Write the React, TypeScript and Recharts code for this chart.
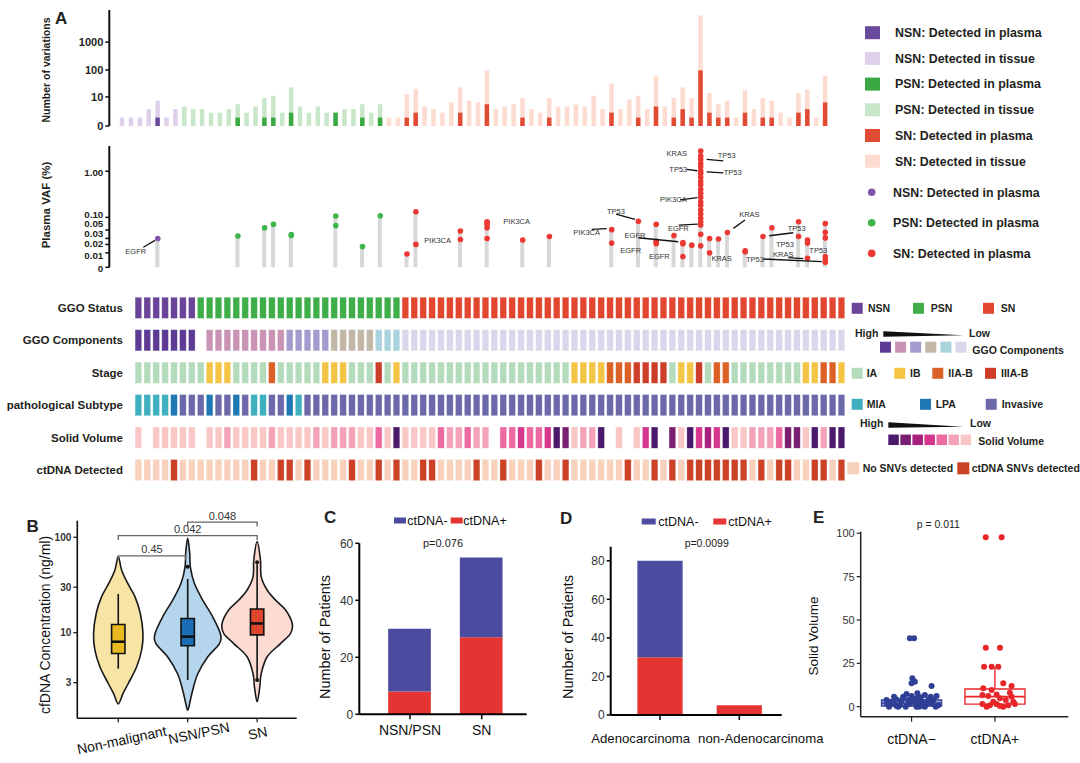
import React from 'react';
import { BarChart, Bar, XAxis, YAxis, Cell, ComposedChart, Scatter } from 'recharts';

const FONT = '"Liberation Sans", Arial, Helvetica, sans-serif';

/* ================= Panel A data (80 patients, ordered) ================= */
const GROUP_NAMES = ['NSN', 'PSN', 'SN'];
const GROUP_SIZES = [7, 23, 50];

const TISSUE_VARIATIONS = [
  1, 1, 1, 3, 7, 1, 3,
  4, 3, 3, 2, 2, 3, 5, 2, 4, 9, 11, 2, 23, 4, 2, 4, 2, 2, 3, 3, 5, 2, 5,
  1, 1, 13, 20, 4, 3, 2, 6, 23, 7,
  6, 97, 3, 4, 5, 9, 3, 2, 9, 4,
  4, 5, 4, 11, 3, 32, 3, 8, 11, 3,
  63, 4, 9, 23, 9, 9000, 14, 5, 7, 1,
  18, 3, 9, 7, 2, 1, 14, 19, 1, 63,
];
const PLASMA_VARIATIONS = [
  0, 0, 0, 0, 1, 0, 0, 0, 0, 0,
  0, 0, 0, 1, 0, 0, 1, 1, 0, 2,
  0, 0, 0, 0, 2, 0, 0, 1, 0, 1,
  0, 0, 1, 2, 0, 0, 0, 0, 2, 0,
  0, 5, 0, 0, 0, 1, 0, 0, 1, 0,
  0, 0, 0, 0, 0, 2, 0, 0, 1, 0,
  4, 0, 1, 3, 1, 97, 2, 1, 1, 0,
  2, 0, 1, 1, 0, 0, 2, 3, 0, 6,
];
const COUNT_TICKS = [0, 10, 100, 1000];

const VAF_TICKS = [0, 0.01, 0.02, 0.03, 0.05, 0.1, 1];
const VAF_TICK_LABELS = ['0', '0.01', '0.02', '0.03', '0.05', '0.10', '1.00'];

// [patient index, plasma VAF values (%)]
const PLASMA_VAF: [number, number[]][] = [
  [4, [0.03]],
  [13, [0.035]],
  [16, [0.057]],
  [17, [0.069]],
  [19, [0.038, 0.036]],
  [24, [0.107, 0.064]],
  [27, [0.017]],
  [29, [0.109]],
  [32, [0.009]],
  [33, [0.134, 0.02]],
  [38, [0.047, 0.028]],
  [41, [0.079, 0.074, 0.069, 0.057, 0.03]],
  [45, [0.027]],
  [48, [0.034]],
  [55, [0.051, 0.022]],
  [58, [0.081]],
  [60, [0.069, 0.025, 0.024, 0.021]],
  [62, [0.036]],
  [63, [0.023, 0.0067, 0.021]],
  [64, [0.019]],
  [65, [2.645, 2.075, 1.77, 1.458, 1.24, 1.022, 0.898, 0.74, 0.6, 0.51, 0.41, 0.34, 0.28, 0.22, 0.186, 0.146, 0.119, 0.095, 0.079, 0.066, 0.039, 0.018]],
  [66, [0.03, 0.01]],
  [67, [0.029]],
  [68, [0.043]],
  [70, [0.012, 0.011]],
  [72, [0.034]],
  [73, [0.057]],
  [76, [0.079, 0.034]],
  [77, [0.027, 0.022, 0.0054]],
  [79, [0.072, 0.044, 0.031, 0.0067, 0.0045, 0.0027]],
];

// gene annotations: [gene, patient index, VAF of annotated point]
const GENE_LABELS: [string, number, number][] = [
  ['EGFR', 4, 0.03],
  ['PIK3CA', 38, 0.028],
  ['PIK3CA', 41, 0.079],
  ['TP53', 58, 0.081],
  ['PIK3CA', 55, 0.051],
  ['EGFR', 63, 0.023],
  ['EGFR', 60, 0.025],
  ['EGFR', 62, 0.036],
  ['EGFR', 65, 0.066],
  ['KRAS', 65, 2.645],
  ['TP53', 65, 2.075],
  ['TP53', 65, 1.022],
  ['TP53', 65, 0.898],
  ['PIK3CA', 65, 0.28],
  ['KRAS', 68, 0.043],
  ['KRAS', 66, 0.01],
  ['TP53', 72, 0.034],
  ['TP53', 73, 0.057],
  ['TP53', 79, 0.031],
  ['KRAS', 77, 0.0054],
  ['TP53', 79, 0.0027],
];
// label placement (pixels relative to the annotated point): [dx, dy, leader line or null]
const GENE_LABEL_LAYOUT: [number, number, number[] | null][] = [
  [-22, 13, [-14.5, 8.8, -2.8, 2]],
  [-22.7, 0.5, null],
  [29.6, -0.7, null],
  [-22.4, -10, [-22.4, -7.3, -3.4, -2]],
  [-25, 2.7, [-20, -0.3, -5, -1]],
  [-47.9, -7.4, [-44.6, -4.7, -4.6, -0.7]],
  [-25.5, 9.5, null],
  [-14.7, 20.5, null],
  [-22.4, 3.3, [-22, 0, -3, -1]],
  [-24, 2.3, null],
  [26, -0.3, [6, 3.3, 22.6, 4.7]],
  [-22.4, -1.3, [-14, -1.3, -3.4, 0]],
  [32, -1, [6, -1.6, 22.6, -0.6]],
  [-27.4, 2, [-20.7, 2.7, -3.4, 0.4]],
  [22, -17.8, [6, -4.2, 17.6, -12.5]],
  [12, 6, null],
  [33.7, -8.1, [6.3, -0.7, 30.3, -3.7]],
  [13.1, 17.3, null],
  [-7, 12.1, null],
  [-24.2, -4, [-19.2, -0.6, -4.2, 0.4]],
  [-70.3, -3.3, [-62, -3.3, -3.6, -0.6]],
];
// vertical nudge of VAF tick labels (px), as spread out in the figure
const VAF_LABEL_NUDGE = [0.7, 3, -1.4, -5.4, -6, -3.3, 1];

const HEATMAP_ROW_NAMES = ['GGO Status', 'GGO Components', 'Stage', 'pathological Subtype', 'Solid Volume', 'ctDNA Detected'];
// GGO components: A (high) .. F (low), '.' = missing
const GGO_COMPONENT_ROW = 'AAAAAAA.BBBBBBBBBCCCCCDDDDDEEE' + 'FFFFFFFFFF' + 'FFFFFFFFFF' + 'FFFFFFFFFF' + 'FFFFFFFFFF' + 'FFFFFFFFFF';
// Stage: 1 IA, 2 IB, 3 IIA-B, 4 IIIA-B
const STAGE_ROW = '11111111' + '222' + '1111' + '3' + '11111' + '222' + '111' + '4' + '1' + '2' +
  '1111111111' + '111111111' + '2222' + '333' + '4444' + '1' + '22' + '4' + '1' + '33' + '11111111' + '22' + '33' + '2';
// Subtype: M MIA, L LPA, I invasive
const SUBTYPE_ROW = 'MMMML' + 'IIIL' + 'IIL' + 'IMM' + 'IIL' + 'M' +
  'IIIIIIIIII' + 'IIIIIIIIII' + 'IIIIIIIIII' + 'IIIIIIIIII' + 'IIIIIIIIII' + 'IIIIIIIIII' + 'I';
// Solid volume: 0 missing, 1 (low) .. 7 (high)
const SOLID_ROW = '101111101121111211112122211317' + '111132232' + '2033433476' + '1227010147' + '0617454711' + '2223661727' + '7';

/* ================= Panel B data ================= */
const B_GROUPS = ['Non-malignant', 'NSN/PSN', 'SN'];
// violin outline: [cfDNA ng/ml, half width (category units)]
const B_VIOLIN_NONMALIGNANT: [number, number][] = [[1.8, 0], [2.3, 0.067], [2.94, 0.144], [4.4, 0.265], [6.6, 0.337], [9.8, 0.356], [16, 0.317], [23.9, 0.24], [33, 0.135], [45.5, 0.048], [62.7, 0]];
const B_VIOLIN_NSNPSN: [number, number][] = [[1.54, 0], [1.96, 0.038], [2.5, 0.072], [3.7, 0.144], [5.6, 0.29], [7.7, 0.457], [9.8, 0.47], [14.7, 0.36], [22, 0.216], [33, 0.096], [49, 0.038], [68, 0.029], [98, 0]];
const B_VIOLIN_SN: [number, number][] = [[1.89, 0], [2.7, 0.038], [3.7, 0.058], [5.6, 0.144], [7.7, 0.337], [9.8, 0.48], [12.5, 0.505], [17.3, 0.41], [22, 0.264], [28, 0.144], [38.7, 0.058], [57.8, 0.048], [90, 0]];
// box: [whisker low, q1, median, q3, whisker high]
const B_BOX_NONMALIGNANT = [4.2, 6.07, 8.05, 12.2, 25.5];
const B_BOX_NSNPSN = [3.2, 7.3, 9.1, 14.1, 36.6];
const B_BOX_SN = [3.3, 9.5, 12.5, 17.7, 52];
const B_OUTLIERS: [number, number][] = [[2, 49], [3, 54.7], [3, 3.2]];
// comparisons: [group a, group b, bracket height, p]
const B_COMPARISONS: [number, number, number, string][] = [[1, 1.97, 63.7, '0.45'], [1, 3, 104, '0.042'], [2, 3, 144, '0.048']];
const B_Y_TICKS = [3, 10, 30, 100];

/* ================= Panel C / D data ================= */
const C_CATEGORIES = ['NSN/PSN', 'SN'];
const C_CTDNA_POS = [8, 27];
const C_CTDNA_NEG = [22, 28];
const C_Y_TICKS = [0, 20, 40, 60];
const D_CATEGORIES = ['Adenocarcinoma', 'non-Adenocarcinoma'];
const D_CTDNA_POS = [30, 5];
const D_CTDNA_NEG = [50, 0];
const D_Y_TICKS = [0, 20, 40, 60, 80];

/* ================= Panel E data ================= */
const E_CATEGORIES = ['ctDNA\u2212', 'ctDNA+'];
const E_Y_TICKS = [0, 25, 50, 75, 100];
// [jitter offset, solid volume]
const E_NEG_POINTS: [number, number][] = [
  [-0.02, 39.5], [0.03, 39.5], [0.01, 16.4], [0.04, 14.4], [0, 13.5], [0.24, 12.0],
  [-0.29, 1.5], [-0.24, 2.9], [-0.18, 4.2], [-0.14, 0.9], [-0.1, 5.8], [-0.07, 0], [-0.04, 3.9],
  [0, 6.2], [0.04, 2.3], [0.06, 4.8], [0.09, 0], [0.13, 2.9], [0.16, 6.7], [0.18, 1.5], [0.21, 4.2],
  [0.26, 3.9], [0.3, 6.2], [0.32, 0.9], [-0.27, 0], [-0.21, 5.8], [-0.16, 0], [-0.12, 3.5], [-0.03, 1.5],
  [0.02, 4.2], [0.06, 0], [0.11, 5.4], [0.14, 0.4], [0.2, 3.9], [0.24, 1.9], [0.29, 0], [0.07, 7.7],
  [-0.06, 7.3], [-0.22, 1.9], [-0.18, 0.4], [0.07, 1.9], [-0.02, 2.9], [0.16, 0], [0.23, 5.8], [-0.3, 3.9],
];
const E_POS_POINTS: [number, number][] = [
  [-0.11, 97.7], [0.08, 97.7], [-0.11, 34], [0.06, 34], [-0.13, 23], [-0.04, 23], [0.04, 23],
  [0.1, 13.5], [0.2, 12], [-0.14, 10.6], [-0.04, 9.6], [-0.15, 6.7], [-0.08, 6.2], [0.02, 7], [0.18, 8],
  [0.06, 4.8], [0.13, 3.9], [0.22, 2.9], [-0.15, 1.5], [-0.06, 0.9], [0.02, 1.5], [0.1, 0], [0.16, 0.9],
  [0.24, 1.5], [-0.1, 0], [-0.02, 2.9], [0.06, 0.4], [0.2, 5.8],
];
const E_BOX_NEG = [0, 0.4, 2, 3.9, 3.9];
const E_BOX_POS = [0, 1.5, 5.8, 10.2, 23];

/* ================= colours ================= */
const GROUP_DARK = ['#6a4a9c', '#3aa843', '#e14b33'];
const GROUP_LIGHT = ['#ddd0e8', '#c8e6c9', '#fddbd0'];
const DOT_COLORS = ['#8455ad', '#3db54a', '#ec3832'];
const STATUS_COLORS = ['#6a4499', '#3fae49', '#e1472f'];
const GGO_COMP_COLORS: Record<string, string> = { A: '#5d3b94', B: '#c993b3', C: '#a39cce', D: '#c2b7a7', E: '#a9d3dd', F: '#dbd6eb' };
const STAGE_COLORS: Record<string, string> = { '1': '#b4dcbc', '2': '#f4c444', '3': '#dc6127', '4': '#cc3e27' };
const SUBTYPE_COLORS: Record<string, string> = { M: '#3fb0bf', L: '#1f78b4', I: '#6b69a9' };
const SOLID_COLORS = ['', '#f9c7c6', '#f4a2b8', '#ec6aa0', '#d5378f', '#a8207d', '#7a1e72', '#4b196b'];
const CTDNA_COLORS = ['#f7d1bb', '#cb4227'];
const C_NEG_COLOR = '#4b4ba0';
const C_POS_COLOR = '#e43533';

/* ================= helpers ================= */
const tCount = (v: number) => Math.log10(v + 1);
const tVaf = (v: number) => Math.log10(100 * v + 1);
const groupOf = (i: number) => (i < GROUP_SIZES[0] ? 0 : i < GROUP_SIZES[0] + GROUP_SIZES[1] ? 1 : 2);
const near = (a: number, b: number) => Math.abs(a - b) < 1e-6;

const EmptyShape = () => <g />;

function smoothClosed(pts: { x: number; y: number }[]) {
  const n = pts.length;
  let d = `M${pts[0].x},${pts[0].y}`;
  for (let k = 0; k < n; k++) {
    const p0 = pts[(k - 1 + n) % n], p1 = pts[k], p2 = pts[(k + 1) % n], p3 = pts[(k + 2) % n];
    const c1x = p1.x + (p2.x - p0.x) / 6, c1y = p1.y + (p2.y - p0.y) / 6;
    const c2x = p2.x - (p3.x - p1.x) / 6, c2y = p2.y - (p3.y - p1.y) / 6;
    d += ` C${c1x},${c1y} ${c2x},${c2y} ${p2.x},${p2.y}`;
  }
  return d + 'Z';
}
function polyPath(pts: { x: number; y: number }[], closed: boolean) {
  return pts.map((p, k) => `${k ? 'L' : 'M'}${p.x},${p.y}`).join(' ') + (closed ? 'Z' : '');
}

// a polygon / polyline in data coordinates, drawn through the chart's scales
function shapeSeries(key: string, pts: number[][], render: (p: { x: number; y: number }[]) => React.ReactElement) {
  return (
    <Scatter
      key={key}
      data={pts.map(([x, y]) => ({ x, y }))}
      dataKey="y"
      shape={EmptyShape}
      line={(props: any) => render(props.points)}
      isAnimationActive={false}
    />
  );
}

/* ================= Panel A: top bars ================= */
const A_DOMAIN: [number, number] = [-1.449, 80.09];
const countData = TISSUE_VARIATIONS.map((t, i) => ({ x: i, tissue: tCount(t), plasma: tCount(PLASMA_VARIATIONS[i]), g: groupOf(i) }));
const countTicks = COUNT_TICKS.map(tCount);

const aTick = { fontSize: 11, fontWeight: 700, fill: '#231f20', fontFamily: FONT };

function TopBars() {
  return (
    <BarChart width={1080} height={140} data={countData} margin={{ top: 10, right: 245, bottom: 14, left: 49.3 }}>
      <XAxis xAxisId="t" type="number" dataKey="x" domain={A_DOMAIN} hide />
      <XAxis xAxisId="p" type="number" dataKey="x" domain={A_DOMAIN} hide />
      <YAxis
        type="number" domain={[0, 4.15]} ticks={countTicks} interval={0} width={60}
        tickFormatter={(v: number) => String(COUNT_TICKS[countTicks.findIndex((t) => near(t, v))])}
        axisLine={{ stroke: '#111', strokeWidth: 2 }} tickLine={{ stroke: '#111', strokeWidth: 1.5 }} tickSize={4}
        tick={aTick}
      />
      <Bar xAxisId="t" dataKey="tissue" barSize={4.5} isAnimationActive={false}>
        {countData.map((d) => <Cell key={d.x} fill={GROUP_LIGHT[d.g]} />)}
      </Bar>
      <Bar xAxisId="p" dataKey="plasma" barSize={4.5} isAnimationActive={false}>
        {countData.map((d) => <Cell key={d.x} fill={GROUP_DARK[d.g]} />)}
      </Bar>
    </BarChart>
  );
}

/* ================= Panel A: VAF lollipops ================= */
const vafMap: Record<number, number[]> = {};
PLASMA_VAF.forEach(([i, vs]) => { vafMap[i] = vs; });
const stemData = TISSUE_VARIATIONS.map((_, i) => ({ x: i, stem: vafMap[i] ? tVaf(Math.max(...vafMap[i])) : null }));
const dotData = PLASMA_VAF.flatMap(([i, vs]) => vs.map((v) => ({ x: i, y: tVaf(v), g: groupOf(i) })));
const geneData = GENE_LABELS.map(([gene, i, v], k) => ({ x: i, y: tVaf(v), gene, layout: GENE_LABEL_LAYOUT[k] }));
const vafTicks = VAF_TICKS.map(tVaf);

const VafDot = (p: any) => <circle cx={p.cx} cy={p.cy} r={2.8} fill={DOT_COLORS[p.payload.g]} />;
const GeneLabel = (p: any) => {
  const { cx, cy, payload } = p;
  const [dx, dy, line] = payload.layout;
  return (
    <g>
      {line && <line x1={cx + line[0]} y1={cy + line[1]} x2={cx + line[2]} y2={cy + line[3]} stroke="#111" strokeWidth={1.3} />}
      <text x={cx + dx} y={cy + dy} textAnchor="middle" dominantBaseline="central" fontSize={7.5} fill="#333" fontFamily={FONT}>{payload.gene}</text>
    </g>
  );
};
const VafTick = (p: any) => {
  const k = vafTicks.findIndex((t) => near(t, p.payload.value));
  return (
    <text x={p.x} y={p.y + VAF_LABEL_NUDGE[k]} textAnchor="end" dominantBaseline="central" fontSize={9.8} fontWeight={700} fill="#231f20" fontFamily={FONT}>
      {VAF_TICK_LABELS[k]}
    </text>
  );
};

function VafChart() {
  return (
    <ComposedChart width={1080} height={140} data={stemData} margin={{ top: 6, right: 245, bottom: 12.7, left: 49.3 }}>
      <XAxis type="number" dataKey="x" domain={A_DOMAIN} hide />
      <YAxis
        type="number" domain={[0, 2.53]} ticks={vafTicks} interval={0} width={60}
        axisLine={{ stroke: '#111', strokeWidth: 2 }} tickLine={{ stroke: '#111', strokeWidth: 1.5 }} tickSize={4}
        tick={<VafTick />}
      />
      <Bar dataKey="stem" barSize={4} fill="#d8d8d8" isAnimationActive={false} />
      <Scatter data={dotData} dataKey="y" shape={VafDot} isAnimationActive={false} />
      <Scatter data={geneData} dataKey="y" shape={GeneLabel} isAnimationActive={false} />
    </ComposedChart>
  );
}

/* ================= Panel A: heatmap ================= */
const heatCells: { x: number; y: number; c: string }[] = [];
for (let i = 0; i < TISSUE_VARIATIONS.length; i++) {
  const colors = [
    STATUS_COLORS[groupOf(i)],
    GGO_COMP_COLORS[GGO_COMPONENT_ROW[i]],
    STAGE_COLORS[STAGE_ROW[i]],
    SUBTYPE_COLORS[SUBTYPE_ROW[i]],
    SOLID_COLORS[Number(SOLID_ROW[i])],
    CTDNA_COLORS[PLASMA_VARIATIONS[i] > 0 ? 1 : 0],
  ];
  colors.forEach((c, r) => { if (c) heatCells.push({ x: i, y: r, c }); });
}
const HeatCell = (p: any) => (
  <rect x={p.cx - 3.3} y={p.cy - 10.6} width={6.6} height={21.2} fill={p.payload.c} stroke="#ffffff" strokeOpacity={0.45} strokeWidth={0.6} />
);
const RowTick = (p: any) => (
  <text x={p.x} y={p.y} textAnchor="end" dominantBaseline="central" fontSize={11.5} fontWeight={700} fill="#231f20" fontFamily={FONT}>
    {HEATMAP_ROW_NAMES[p.payload.value]}
  </text>
);

function Heatmap() {
  return (
    <ComposedChart width={1080} height={200} margin={{ top: 0, right: 230, bottom: 0, left: 5 }}>
      <XAxis type="number" dataKey="x" domain={[-0.944, 79.96]} hide />
      <YAxis
        type="number" domain={[-0.549, 5.615]} reversed ticks={[0, 1, 2, 3, 4, 5]} interval={0}
        width={125} axisLine={false} tickLine={false} tickSize={0} tickMargin={7} tick={<RowTick />}
      />
      <Scatter data={heatCells} dataKey="y" shape={HeatCell} isAnimationActive={false} />
    </ComposedChart>
  );
}

/* ================= Panel B ================= */
const B_VIOLINS = [B_VIOLIN_NONMALIGNANT, B_VIOLIN_NSNPSN, B_VIOLIN_SN];
const B_BOXES = [B_BOX_NONMALIGNANT, B_BOX_NSNPSN, B_BOX_SN];
const B_VIOLIN_FILL = ['#f8e5a6', '#b4d5ec', '#fcdcd2'];
const B_BOX_FILL = ['#e8b921', '#1b6db4', '#e0452e'];
const B_BOX_HW = 0.096;

function violinOutline(pos: number, prof: [number, number][]) {
  const right = prof.map(([v, w]) => [pos + w, v]);
  const left = prof.slice(1, -1).reverse().map(([v, w]) => [pos - w, v]);
  return [...right, ...left];
}

const BTick = (p: any) => {
  const k = p.payload.value - 1;
  const dx = [3.4, 11.3, 0.5][k] ?? 0;
  const cy = [740, 733, 733][k] - 500;
  return (
    <text x={p.x + dx} y={cy} transform={`rotate(-12, ${p.x + dx}, ${cy})`} textAnchor="middle" dominantBaseline="central" fontSize={14} fill="#111" fontFamily={FONT}>
      {B_GROUPS[k]}
    </text>
  );
};
const OutlierDot = (p: any) => <circle cx={p.cx} cy={p.cy} r={2} fill="#111" />;
const PText = (p: any) => (
  <text x={p.cx} y={p.cy - 2.5} textAnchor="middle" fontSize={11} fill="#333" fontFamily={FONT}>{p.payload.label}</text>
);

function PanelB() {
  const series: React.ReactElement[] = [];
  B_VIOLINS.forEach((prof, k) => {
    series.push(shapeSeries(`v${k}`, violinOutline(k + 1, prof), (pts) => (
      <path d={smoothClosed(pts)} fill={B_VIOLIN_FILL[k]} stroke="#1a1a1a" strokeWidth={1.6} />
    )));
  });
  B_BOXES.forEach(([lo, q1, med, q3, hi], k) => {
    const pos = k + 1;
    series.push(shapeSeries(`w${k}`, [[pos, lo], [pos, hi]], (pts) => <path d={polyPath(pts, false)} stroke="#111" strokeWidth={1.6} fill="none" />));
    series.push(shapeSeries(`b${k}`, [[pos - B_BOX_HW, q1], [pos + B_BOX_HW, q1], [pos + B_BOX_HW, q3], [pos - B_BOX_HW, q3]], (pts) => (
      <path d={polyPath(pts, true)} stroke="#111" strokeWidth={1.6} fill={B_BOX_FILL[k]} />
    )));
    series.push(shapeSeries(`m${k}`, [[pos - B_BOX_HW, med], [pos + B_BOX_HW, med]], (pts) => <path d={polyPath(pts, false)} stroke="#111" strokeWidth={2.6} fill="none" />));
  });
  B_COMPARISONS.forEach(([a, b, h], k) => {
    series.push(shapeSeries(`br${k}`, [[a, h * 0.9], [a, h], [b, h], [b, h * 0.9]], (pts) => <path d={polyPath(pts, false)} stroke="#666" strokeWidth={1.3} fill="none" />));
  });
  return (
    <ComposedChart width={310} height={263} margin={{ top: 20.7, right: 13.3, bottom: 14.7, left: 32.3 }}>
      <XAxis type="number" dataKey="x" domain={[0.41, 3.57]} ticks={[1, 2, 3]} interval={0} height={30}
        axisLine={{ stroke: '#111', strokeWidth: 1.6 }} tickLine={{ stroke: '#111', strokeWidth: 1.2 }} tickSize={4} tick={<BTick />} />
      <YAxis type="number" scale="log" domain={[1.27, 149]} ticks={B_Y_TICKS} interval={0} width={45}
        axisLine={{ stroke: '#111', strokeWidth: 1.6 }} tickLine={{ stroke: '#111', strokeWidth: 1.2 }} tickSize={4}
        tick={{ fontSize: 10, fontWeight: 700, fill: '#333', fontFamily: FONT }} />
      {series}
      <Scatter data={B_OUTLIERS.map(([x, y]) => ({ x, y }))} dataKey="y" shape={OutlierDot} isAnimationActive={false} />
      <Scatter data={B_COMPARISONS.map(([a, b, h, p]) => ({ x: (a + b) / 2, y: h, label: p }))} dataKey="y" shape={PText} isAnimationActive={false} />
    </ComposedChart>
  );
}

/* ================= Panel C / D ================= */
function StackPanel({ cats, pos, neg, yMax, yTicks, width, margin, padding, barSize, tickMargin, labelDx, labelSize }: any) {
  const data = cats.map((c: string, i: number) => ({ cat: c, pos: pos[i], neg: neg[i] }));
  const XTick = (p: any) => {
    const k = cats.indexOf(p.payload.value);
    return (
      <text x={p.x + (labelDx ? labelDx[k] : 0)} y={p.y} dy="0.71em" textAnchor="middle" fontSize={labelSize} fill="#111" fontFamily={FONT}>{p.payload.value}</text>
    );
  };
  return (
    <BarChart width={width} height={263} data={data} margin={margin}>
      <XAxis dataKey="cat" padding={padding} height={30} interval={0} axisLine={{ stroke: '#000', strokeWidth: 2 }}
        tickLine={{ stroke: '#000', strokeWidth: 1.5 }} tickSize={5} tickMargin={tickMargin} tick={<XTick />} />
      <YAxis type="number" domain={[0, yMax]} ticks={yTicks} interval={0} width={40}
        axisLine={{ stroke: '#000', strokeWidth: 2 }} tickLine={{ stroke: '#000', strokeWidth: 1.5 }} tickSize={4}
        tick={{ fontSize: 12, fill: '#333', fontFamily: FONT }} />
      <Bar dataKey="pos" stackId="s" fill={C_POS_COLOR} barSize={barSize} isAnimationActive={false} />
      <Bar dataKey="neg" stackId="s" fill={C_NEG_COLOR} barSize={barSize} isAnimationActive={false} />
    </BarChart>
  );
}

/* ================= Panel E ================= */
const E_BOX_HW = 0.36;
const EDot = (color: string) => (p: any) => <circle cx={p.cx} cy={p.cy} r={3} fill={color} />;
const ETick = (p: any) => (
  <text x={p.x} y={p.y} dy="0.71em" textAnchor="middle" fontSize={14} fill="#111" fontFamily={FONT}>{E_CATEGORIES[p.payload.value - 1]}</text>
);

function PanelE() {
  const boxes: React.ReactElement[] = [];
  const specs = [
    { box: E_BOX_NEG, stroke: '#3646a0', fill: '#7f89c6' },
    { box: E_BOX_POS, stroke: '#e8262a', fill: 'none' },
  ];
  specs.forEach(({ box, stroke, fill }, k) => {
    const [lo, q1, med, q3, hi] = box;
    const pos = k + 1;
    boxes.push(shapeSeries(`ew${k}`, [[pos, lo], [pos, q1]], (pts) => <path d={polyPath(pts, false)} stroke={stroke} strokeWidth={1.4} fill="none" />));
    boxes.push(shapeSeries(`eh${k}`, [[pos, q3], [pos, hi]], (pts) => <path d={polyPath(pts, false)} stroke={stroke} strokeWidth={1.4} fill="none" />));
    boxes.push(shapeSeries(`eb${k}`, [[pos - E_BOX_HW, q1], [pos + E_BOX_HW, q1], [pos + E_BOX_HW, q3], [pos - E_BOX_HW, q3]], (pts) => (
      <path d={polyPath(pts, true)} stroke={stroke} strokeWidth={1.4} fill={fill} fillOpacity={0.8} />
    )));
    boxes.push(shapeSeries(`em${k}`, [[pos - E_BOX_HW, med], [pos + E_BOX_HW, med]], (pts) => <path d={polyPath(pts, false)} stroke={stroke} strokeWidth={1.6} fill="none" />));
  });
  return (
    <ComposedChart width={280} height={263} margin={{ top: 31.7, right: 11.7, bottom: 16.3, left: 20.7 }}>
      <XAxis type="number" dataKey="x" domain={[0.39, 2.88]} ticks={[1, 2]} interval={0} height={30}
        axisLine={{ stroke: '#222', strokeWidth: 1.5 }} tickLine={{ stroke: '#222', strokeWidth: 1.2 }} tickSize={5} tickMargin={12} tick={<ETick />} />
      <YAxis type="number" domain={[-5.77, 100.9]} ticks={E_Y_TICKS} interval={0} width={40}
        axisLine={{ stroke: '#222', strokeWidth: 1.5 }} tickLine={{ stroke: '#222', strokeWidth: 1.2 }} tickSize={4}
        tick={{ fontSize: 11, fill: '#333', fontFamily: FONT }} />
      {boxes}
      <Scatter data={E_NEG_POINTS.map(([o, v]) => ({ x: 1 + o, y: v }))} dataKey="y" shape={EDot('#303f96')} isAnimationActive={false} />
      <Scatter data={E_POS_POINTS.map(([o, v]) => ({ x: 2 + o, y: v }))} dataKey="y" shape={EDot('#e8262a')} isAnimationActive={false} />
    </ComposedChart>
  );
}

/* ================= overlay: titles, legends ================= */
const TOP_LEGEND = [
  ['NSN: Detected in plasma', GROUP_DARK[0]], ['NSN: Detected in tissue', GROUP_LIGHT[0]],
  ['PSN: Detected in plasma', GROUP_DARK[1]], ['PSN: Detected in tissue', GROUP_LIGHT[1]],
  ['SN: Detected in plasma', GROUP_DARK[2]], ['SN: Detected in tissue', GROUP_LIGHT[2]],
];
const DOT_LEGEND = GROUP_NAMES.map((g, k) => [`${g}: Detected in plasma`, DOT_COLORS[k]]);

function Overlay() {
  const T = (props: any) => <text fontFamily={FONT} fill="#231f20" {...props} />;
  const legText = { fontSize: 10.5, fontWeight: 700 };
  const sq = (x: number, y: number, c: string, s = 11) => <rect x={x} y={y - s / 2} width={s} height={s} fill={c} />;
  return (
    <svg width={1080} height={763} style={{ position: 'absolute', left: 0, top: 0, pointerEvents: 'none' }}>
      {/* panel letters */}
      <T x={55} y={24} fontSize={17} fontWeight={700}>A</T>
      <T x={26.5} y={532} fontSize={17} fontWeight={700}>B</T>
      <T x={324} y={523} fontSize={17} fontWeight={700}>C</T>
      <T x={560} y={523.5} fontSize={17} fontWeight={700}>D</T>
      <T x={813} y={523} fontSize={17} fontWeight={700}>E</T>

      {/* panel A axis titles */}
      <T x={0} y={0} transform="translate(50,70) rotate(-90)" textAnchor="middle" fontSize={10.5} fontWeight={700}>Number of variations</T>
      <T x={0} y={0} transform="translate(50,205) rotate(-90)" textAnchor="middle" fontSize={11.5} fontWeight={700}>Plasma VAF (%)</T>

      {/* top legend */}
      {TOP_LEGEND.map(([label, c], k) => (
        <g key={label + k}>
          <rect x={865} y={26.2 + 25.7 * k} width={15} height={13} fill={c} />
          <T x={895} y={32.7 + 25.7 * k + 4.3} fontSize={12.4} fontWeight={700}>{label}</T>
        </g>
      ))}
      {DOT_LEGEND.map(([label, c], k) => (
        <g key={label + 'd' + k}>
          <circle cx={871.7} cy={192.3 + 30.5 * k} r={3.8} fill={c} />
          <T x={893} y={192.3 + 30.5 * k + 4.3} fontSize={12.4} fontWeight={700}>{label}</T>
        </g>
      ))}

      {/* heatmap legends */}
      {sq(851.7, 308.3, STATUS_COLORS[0])}<T x={868} y={312} {...legText}>NSN</T>
      {sq(913, 308.3, STATUS_COLORS[1])}<T x={930.7} y={312} {...legText}>PSN</T>
      {sq(983, 308.3, STATUS_COLORS[2])}<T x={1000.7} y={312} {...legText}>SN</T>

      <T x={855} y={337} {...legText}>High</T>
      <polygon points="883.3,331.2 963.3,335.2 883.3,336.8" fill="#111" />
      <T x={969} y={337} {...legText}>Low</T>
      {['A', 'B', 'C', 'D', 'E', 'F'].map((k, j) => sq(880 + 15.1 * j, 347.2, GGO_COMP_COLORS[k]))}
      <T x={972.3} y={353.5} {...legText}>GGO Components</T>

      {sq(851.7, 373.3, STAGE_COLORS['1'])}<T x={866.7} y={377} {...legText}>IA</T>
      {sq(894.3, 373.3, STAGE_COLORS['2'])}<T x={910} y={377} {...legText}>IB</T>
      {sq(932.3, 373.3, STAGE_COLORS['3'])}<T x={948.3} y={377} {...legText}>IIA-B</T>
      {sq(985, 373.3, STAGE_COLORS['4'])}<T x={1001} y={377} {...legText}>IIIA-B</T>

      {sq(851.7, 404.3, SUBTYPE_COLORS.M)}<T x={866.7} y={408} {...legText}>MIA</T>
      {sq(920, 404.3, SUBTYPE_COLORS.L)}<T x={935.7} y={408} {...legText}>LPA</T>
      {sq(985.7, 404.3, SUBTYPE_COLORS.I)}<T x={1001.7} y={408} {...legText}>Invasive</T>

      <T x={860} y={427} {...legText}>High</T>
      <polygon points="888.3,422.3 963.3,426.8 888.3,427.8" fill="#111" />
      <T x={970} y={427} {...legText}>Low</T>
      {[7, 6, 5, 4, 3, 2, 1].map((lv, j) => sq(888.3 + 12.05 * j, 439.8, SOLID_COLORS[lv], 10.5))}
      <T x={978.3} y={445} {...legText}>Solid Volume</T>

      {sq(847.3, 468.3, CTDNA_COLORS[0], 12)}<T x={862.7} y={472} {...legText}>No SNVs detected</T>
      {sq(957.3, 468.3, CTDNA_COLORS[1], 12)}<T x={971.7} y={472} {...legText}>ctDNA SNVs detected</T>

      {/* panel B */}
      <T x={0} y={0} transform="translate(50,625) rotate(-90)" textAnchor="middle" fontSize={14} fill="#111">cfDNA Concentration (ng/ml)</T>

      {/* panel C */}
      <T x={0} y={0} transform="translate(330,637) rotate(-90)" textAnchor="middle" fontSize={14.5} fill="#111">Number of Patients</T>
      <rect x={394} y={517.5} width={12} height={6} fill={C_NEG_COLOR} />
      <T x={407.3} y={525} fontSize={12.5} fill="#111">ctDNA-</T>
      <rect x={450.7} y={517.5} width={12} height={6} fill={C_POS_COLOR} />
      <T x={463.3} y={525} fontSize={12.5} fill="#111">ctDNA+</T>
      <T x={443} y={546.5} textAnchor="middle" fontSize={11} fill="#222">p=0.076</T>

      {/* panel D */}
      <T x={0} y={0} transform="translate(573.3,637) rotate(-90)" textAnchor="middle" fontSize={14.5} fill="#111">Number of Patients</T>
      <rect x={641.7} y={518.5} width={14} height={6} fill={C_NEG_COLOR} />
      <T x={658.3} y={526} fontSize={12.5} fill="#111">ctDNA-</T>
      <rect x={713.3} y={518.5} width={13} height={6} fill={C_POS_COLOR} />
      <T x={728.3} y={526} fontSize={12.5} fill="#111">ctDNA+</T>
      <T x={706.7} y={546.5} textAnchor="middle" fontSize={10.5} fill="#222">p=0.0099</T>

      {/* panel E */}
      <T x={0} y={0} transform="translate(818.3,636) rotate(-90)" textAnchor="middle" fontSize={13.5} fill="#111">Solid Volume</T>
      <T x={938.3} y={527.5} textAnchor="middle" fontSize={10.5} fill="#222">p = 0.011</T>
    </svg>
  );
}

export default function App() {
  return (
    <div style={{ position: 'absolute', left: 0, top: 0, width: 1080, height: 763, background: '#fff', overflow: 'hidden', fontFamily: FONT }}>
      <div style={{ position: 'absolute', left: 0, top: 0 }}><TopBars /></div>
      <div style={{ position: 'absolute', left: 0, top: 140 }}><VafChart /></div>
      <div style={{ position: 'absolute', left: 0, top: 290 }}><Heatmap /></div>
      <div style={{ position: 'absolute', left: 0, top: 500 }}><PanelB /></div>
      <div style={{ position: 'absolute', left: 300, top: 500 }}>
        <StackPanel cats={C_CATEGORIES} pos={C_CTDNA_POS} neg={C_CTDNA_NEG} yMax={60} yTicks={C_Y_TICKS} width={260} labelSize={14}
          margin={{ top: 43.3, right: 33.3, bottom: 18.7, left: 19.3 }} padding={{ left: 14.85, right: 9.15 }} barSize={42.7} tickMargin={6} />
      </div>
      <div style={{ position: 'absolute', left: 560, top: 500 }}>
        <StackPanel cats={D_CATEGORIES} pos={D_CTDNA_POS} neg={D_CTDNA_NEG} yMax={87.3} yTicks={D_Y_TICKS} width={280} labelSize={13.2}
          margin={{ top: 46.7, right: 58.3, bottom: 18, left: 10.7 }} padding={{ left: 9.65, right: 2.75 }} barSize={45.3} tickMargin={14} labelDx={[-19.3, 21.5]} />
      </div>
      <div style={{ position: 'absolute', left: 800, top: 500 }}><PanelE /></div>
      <Overlay />
    </div>
  );
}
